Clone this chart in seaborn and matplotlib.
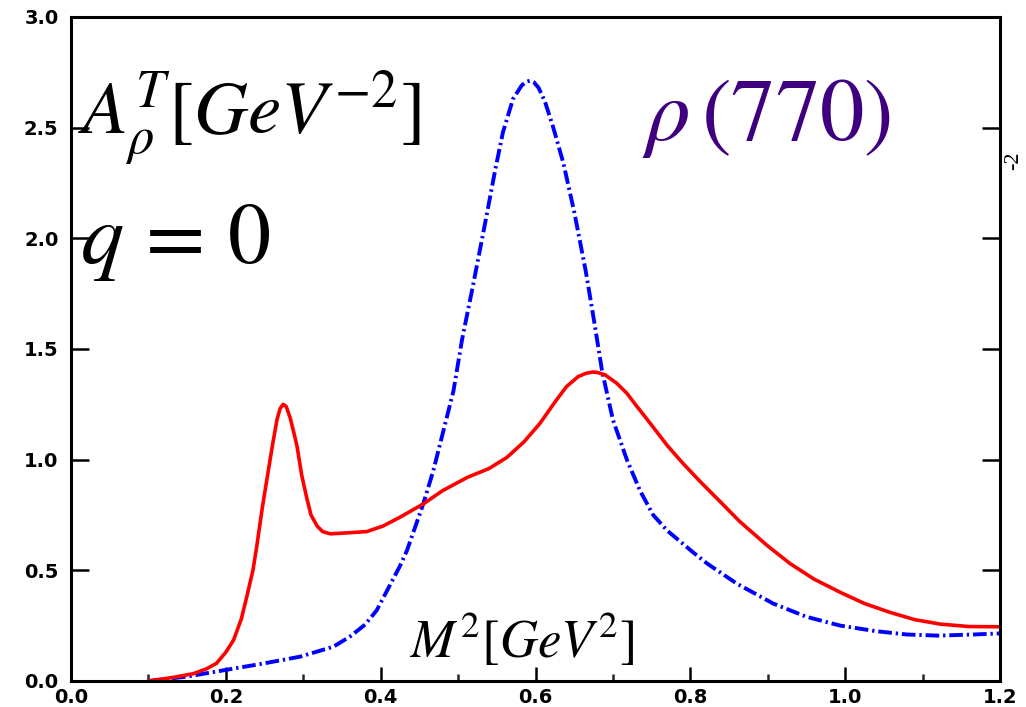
import numpy as np
import pandas as pd
import matplotlib
matplotlib.use("Agg")
import matplotlib.pyplot as plt
import seaborn as sns
from matplotlib.ticker import MultipleLocator, FixedLocator

# ---- data ----
red_x = [0.10, 0.13, 0.158, 0.175, 0.188, 0.20, 0.21, 0.22, 0.227, 0.235, 0.24, 0.247,
         0.253, 0.26, 0.266, 0.27, 0.274, 0.278, 0.283, 0.288, 0.292, 0.298, 0.305, 0.31,
         0.318, 0.325, 0.335, 0.36, 0.382, 0.403, 0.425, 0.455, 0.48, 0.512, 0.54, 0.563,
         0.585, 0.606, 0.625, 0.64, 0.655, 0.665, 0.674, 0.68, 0.69, 0.705, 0.718, 0.73,
         0.748, 0.77, 0.79, 0.813, 0.84, 0.864, 0.90, 0.929, 0.96, 0.994, 1.025, 1.058,
         1.09, 1.123, 1.16, 1.20]
red_y = [0.0, 0.015, 0.033, 0.055, 0.08, 0.13, 0.185, 0.28, 0.38, 0.50, 0.61, 0.78,
         0.91, 1.06, 1.18, 1.23, 1.25, 1.24, 1.19, 1.12, 1.06, 0.93, 0.82, 0.75,
         0.70, 0.675, 0.665, 0.67, 0.675, 0.70, 0.74, 0.80, 0.86, 0.92, 0.96, 1.01,
         1.08, 1.165, 1.26, 1.33, 1.375, 1.39, 1.396, 1.394, 1.383, 1.345, 1.30, 1.245,
         1.165, 1.065, 0.985, 0.90, 0.805, 0.72, 0.61, 0.53, 0.46, 0.40, 0.35, 0.31,
         0.277, 0.257, 0.246, 0.245]

blue_x = [0.10, 0.15, 0.20, 0.25, 0.296, 0.339, 0.36, 0.38, 0.395, 0.416, 0.425, 0.434,
          0.455, 0.468, 0.481, 0.494, 0.505, 0.52, 0.535, 0.548, 0.558, 0.571, 0.582,
          0.588, 0.593, 0.598, 0.604, 0.612, 0.623, 0.636, 0.65, 0.665, 0.676, 0.686,
          0.70, 0.718, 0.735, 0.752, 0.77, 0.804, 0.822, 0.86, 0.907, 0.95, 0.994, 1.04,
          1.08, 1.12, 1.165, 1.20]
blue_y = [0.0, 0.02, 0.05, 0.08, 0.11, 0.155, 0.20, 0.255, 0.32, 0.46, 0.52, 0.59,
          0.80, 0.95, 1.13, 1.31, 1.54, 1.80, 2.07, 2.31, 2.48, 2.63, 2.69,
          2.708, 2.712, 2.705, 2.68, 2.62, 2.50, 2.34, 2.12, 1.85, 1.62, 1.40,
          1.18, 1.00, 0.86, 0.75, 0.68, 0.58, 0.53, 0.44, 0.35, 0.29, 0.25, 0.225,
          0.21, 0.205, 0.21, 0.215]

x_ticks = [0.0, 0.2, 0.4, 0.6, 0.8, 1.0, 1.2]
x_tick_labels = ["0.0", "0.2", "0.4", "0.6", "0.8", "1.0", "1.2"]
y_ticks = [0.0, 0.5, 1.0, 1.5, 2.0, 2.5, 3.0]
y_tick_labels = ["0.0", "0.5", "1.0", "1.5", "2.0", "2.5", "3.0"]

red_df = pd.DataFrame({"M2": red_x, "A": red_y})
blue_df = pd.DataFrame({"M2": blue_x, "A": blue_y})

sns.set_theme(style="white")
plt.rcParams["mathtext.fontset"] = "stix"
plt.rcParams["font.family"] = ["DejaVu Sans"]

fig = plt.figure(figsize=(10.26, 7.07), dpi=100)
ax = fig.add_axes([71 / 1026, 1 - 681 / 707, (1000 - 71) / 1026, (681 - 17) / 707])

sns.lineplot(data=blue_df, x="M2", y="A", ax=ax, color="#0000ff", lw=2.8,
             linestyle=(0, (3.5, 1.0, 0.6, 1.0)), sort=False, estimator=None)
sns.lineplot(data=red_df, x="M2", y="A", ax=ax, color="#ff0000", lw=2.6,
             sort=False, estimator=None)

ax.set_xlim(0.0, 1.2)
ax.set_ylim(0.0, 3.0)
ax.set_xlabel("")
ax.set_ylabel("")

ax.xaxis.set_major_locator(FixedLocator(x_ticks))
ax.xaxis.set_minor_locator(MultipleLocator(0.1))
ax.set_xticklabels(x_tick_labels)
ax.yaxis.set_major_locator(FixedLocator(y_ticks))
ax.set_yticklabels(y_tick_labels)

ax.tick_params(axis="x", which="major", direction="in", length=10, width=1.8,
               bottom=True, top=False, pad=5, labelsize=14, colors="black")
ax.tick_params(axis="x", which="minor", direction="in", length=5, width=1.8,
               bottom=True, top=False)
ax.tick_params(axis="y", which="major", direction="in", length=13, width=1.8,
               left=True, right=True, pad=9, labelsize=14, colors="black")
for lab in ax.get_xticklabels() + ax.get_yticklabels():
    lab.set_fontweight("bold")

for sp in ax.spines.values():
    sp.set_visible(True)
    sp.set_color("black")
    sp.set_linewidth(2.2)

ax.text(0.009, 2.47, r"$A_\rho^T[GeV^{-2}]$", fontsize=54, color="black",
        ha="left", va="baseline")
ax.text(0.012, 1.89, r"$q\,=\,0$", fontsize=62, color="black", ha="left", va="baseline")
ax.text(0.737, 2.445, r"$\rho\,(770)$", fontsize=64, color="#3f0080",
        ha="left", va="baseline")
ax.text(0.438, 0.104, r"$M^2[GeV^2]$", fontsize=38, color="black",
        ha="left", va="baseline")

fig.text(0.988, 0.772, "-2", rotation=90, fontsize=16, color="black",
         family=["Liberation Serif"], ha="center", va="center")

fig.savefig("out.png", dpi=100)
